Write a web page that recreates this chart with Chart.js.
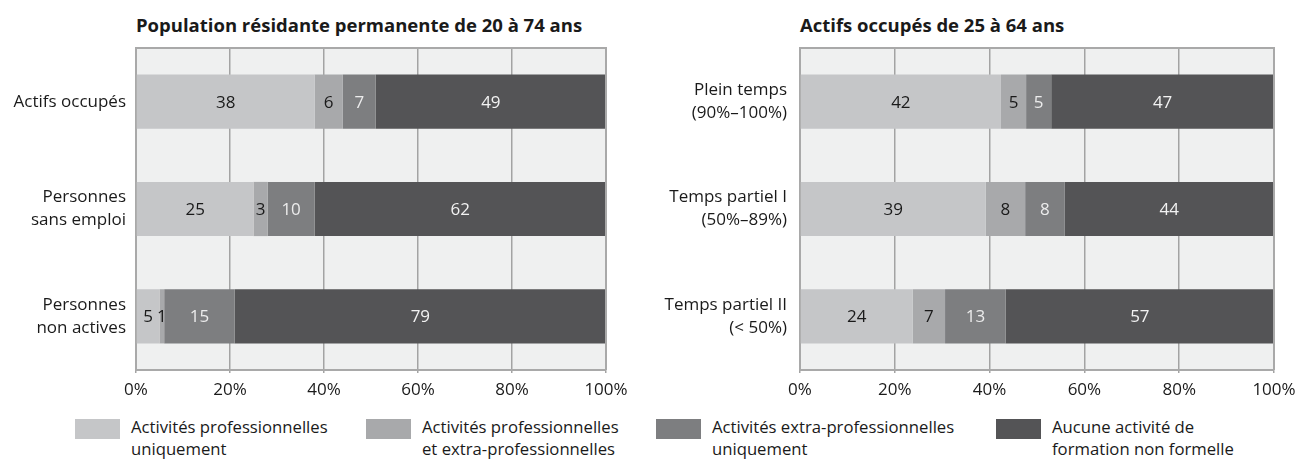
<!DOCTYPE html>
<html lang="fr">
<head>
<meta charset="utf-8">
<title>Formation non formelle</title>
<script src="https://cdn.jsdelivr.net/npm/chart.js@4/dist/chart.umd.min.js"></script>
<style>
    body { margin: 0; background: #fff; font-family: "Open Sans", sans-serif; color: #1a1a1a; }
    #wrap { position: relative; width: 1298px; height: 461px; overflow: hidden; }
    .title { position: absolute; top: 12px; font-weight: bold; font-size: 18.5px; line-height: 26px; white-space: nowrap; }
    .box { position: absolute; top: 38px; height: 362px; }
    .leg-swatch { position: absolute; top: 419px; width: 45px; height: 20px; }
    .leg-text { position: absolute; top: 416px; font-size: 16.7px; line-height: 22px; white-space: nowrap; }
</style>
</head>
<body>
<div id="wrap">
    <div class="title" style="left:136px">Population résidante permanente de 20 à 74 ans</div>
    <div class="title" style="left:800px">Actifs occupés de 25 à 64 ans</div>
    <div class="box" style="left:0; width:640px"><canvas id="chartLeft"></canvas></div>
    <div class="box" style="left:650px; width:648px"><canvas id="chartRight"></canvas></div>
    <div id="legend"></div>
</div>

<script>
/* ================= DATA ================= */
const categoriesLeft = ["Actifs occupés", ["Personnes", "sans emploi"], ["Personnes", "non actives"]];
const categoriesRight = [["Plein temps", "(90%–100%)"], ["Temps partiel I", "(50%–89%)"], ["Temps partiel II", "(< 50%)"]];

const seriesNames = [
    ["Activités professionnelles", "uniquement"],
    ["Activités professionnelles", "et extra-professionnelles"],
    ["Activités extra-professionnelles", "uniquement"],
    ["Aucune activité de", "formation non formelle"]
];

// left panel: population 20-74
const profOnlyLeft  = [38, 25, 5];
const profExtraLeft = [6, 3, 1];
const extraOnlyLeft = [7, 10, 15];
const noneLeft      = [49, 62, 79];

// right panel: employed 25-64 (labels are rounded)
const profOnlyRight  = [42.4, 39.2, 23.8];
const profExtraRight = [5.3, 8.3, 6.8];
const extraOnlyRight = [5.3, 8.3, 12.8];
const noneRight      = [47.0, 44.2, 56.6];

const xTicks = [0, 20, 40, 60, 80, 100];

/* ================= STYLE ================= */
const colors = ["#c5c6c8", "#a8a9ab", "#7d7e80", "#545456"];
const labelColors = ["#1a1a1a", "#1a1a1a", "#ececec", "#f2f2f2"];
const plotBg = "#eff0f0";
const frameColor = "#a9a9a9";
const fontSize = 17;

Chart.defaults.font.family = "'Open Sans', sans-serif";
Chart.defaults.color = "#1a1a1a";

/* ================= PLUGINS ================= */
const plotFrame = {
    id: "plotFrame",
    beforeDraw(chart) {
        const a = chart.chartArea;
        const ctx = chart.ctx;
        ctx.save();
        ctx.fillStyle = plotBg;
        ctx.fillRect(a.left, a.top, a.right - a.left, a.bottom - a.top);
        ctx.restore();
    },
    afterDatasetsDraw(chart) {
        const a = chart.chartArea;
        const ctx = chart.ctx;
        ctx.save();
        ctx.strokeStyle = frameColor;
        ctx.lineWidth = 2;
        ctx.beginPath();
        ctx.moveTo(a.left, a.top);
        ctx.lineTo(a.right, a.top);
        ctx.lineTo(a.right, a.bottom);
        ctx.stroke();
        ctx.restore();
    }
};

const valueLabels = {
    id: "valueLabels",
    afterDatasetsDraw(chart) {
        const ctx = chart.ctx;
        ctx.save();
        ctx.font = fontSize + "px 'Open Sans', sans-serif";
        ctx.textAlign = "center";
        ctx.textBaseline = "middle";
        chart.data.datasets.forEach((ds, i) => {
            chart.getDatasetMeta(i).data.forEach((bar, j) => {
                ctx.fillStyle = labelColors[i];
                ctx.fillText(Math.round(ds.data[j]), (bar.x + bar.base) / 2, bar.y + 1);
            });
        });
        ctx.restore();
    }
};

/* ================= BUILD ================= */
function buildChart(id, labels, series, yWidth, yPad, padRight) {
    return new Chart(document.getElementById(id), {
        type: "bar",
        data: {
            labels,
            datasets: series.map((data, i) => ({
                label: seriesNames[i].join(" "),
                data,
                backgroundColor: colors[i],
                borderWidth: 0,
                categoryPercentage: 0.505,
                barPercentage: 1
            }))
        },
        options: {
            indexAxis: "y",
            responsive: true,
            maintainAspectRatio: false,
            animation: false,
            layout: { padding: { top: 10, right: padRight, bottom: 0, left: 0 } },
            plugins: {
                legend: { display: false },
                tooltip: { enabled: false }
            },
            scales: {
                x: {
                    stacked: true,
                    min: 0,
                    max: 100,
                    afterBuildTicks: axis => { axis.ticks = xTicks.map(v => ({ value: v })); },
                    ticks: {
                        callback: v => v + "%",
                        font: { size: fontSize },
                        padding: 7,
                        maxRotation: 0
                    },
                    grid: { color: "#a3a3a3", lineWidth: 1.5, tickLength: 3 },
                    border: { color: frameColor, width: 2 },
                    afterFit: axis => {
                        axis.height = 30;
                        axis.paddingLeft = 0;
                        axis.paddingRight = 0;
                    }
                },
                y: {
                    stacked: true,
                    ticks: {
                        font: { size: fontSize, lineHeight: 1.35 },
                        padding: yPad
                    },
                    grid: { display: false, drawTicks: false },
                    border: { color: frameColor, width: 2 },
                    afterFit: axis => {
                        axis.width = yWidth;
                        axis.paddingTop = 0;
                        axis.paddingBottom = 0;
                    }
                }
            }
        },
        plugins: [plotFrame, valueLabels]
    });
}

buildChart("chartLeft", categoriesLeft,
    [profOnlyLeft, profExtraLeft, extraOnlyLeft, noneLeft], 136, 10, 34);
buildChart("chartRight", categoriesRight,
    [profOnlyRight, profExtraRight, extraOnlyRight, noneRight], 150, 13, 24);

/* ================= LEGEND ================= */
const legendX = [75, 366, 656, 996];
const legend = document.getElementById("legend");
seriesNames.forEach((name, i) => {
    const sw = document.createElement("div");
    sw.className = "leg-swatch";
    sw.style.left = legendX[i] + "px";
    sw.style.background = colors[i];
    legend.appendChild(sw);

    const tx = document.createElement("div");
    tx.className = "leg-text";
    tx.style.left = (legendX[i] + 56) + "px";
    tx.innerHTML = name.join("<br>");
    legend.appendChild(tx);
});
</script>
</body>
</html>
